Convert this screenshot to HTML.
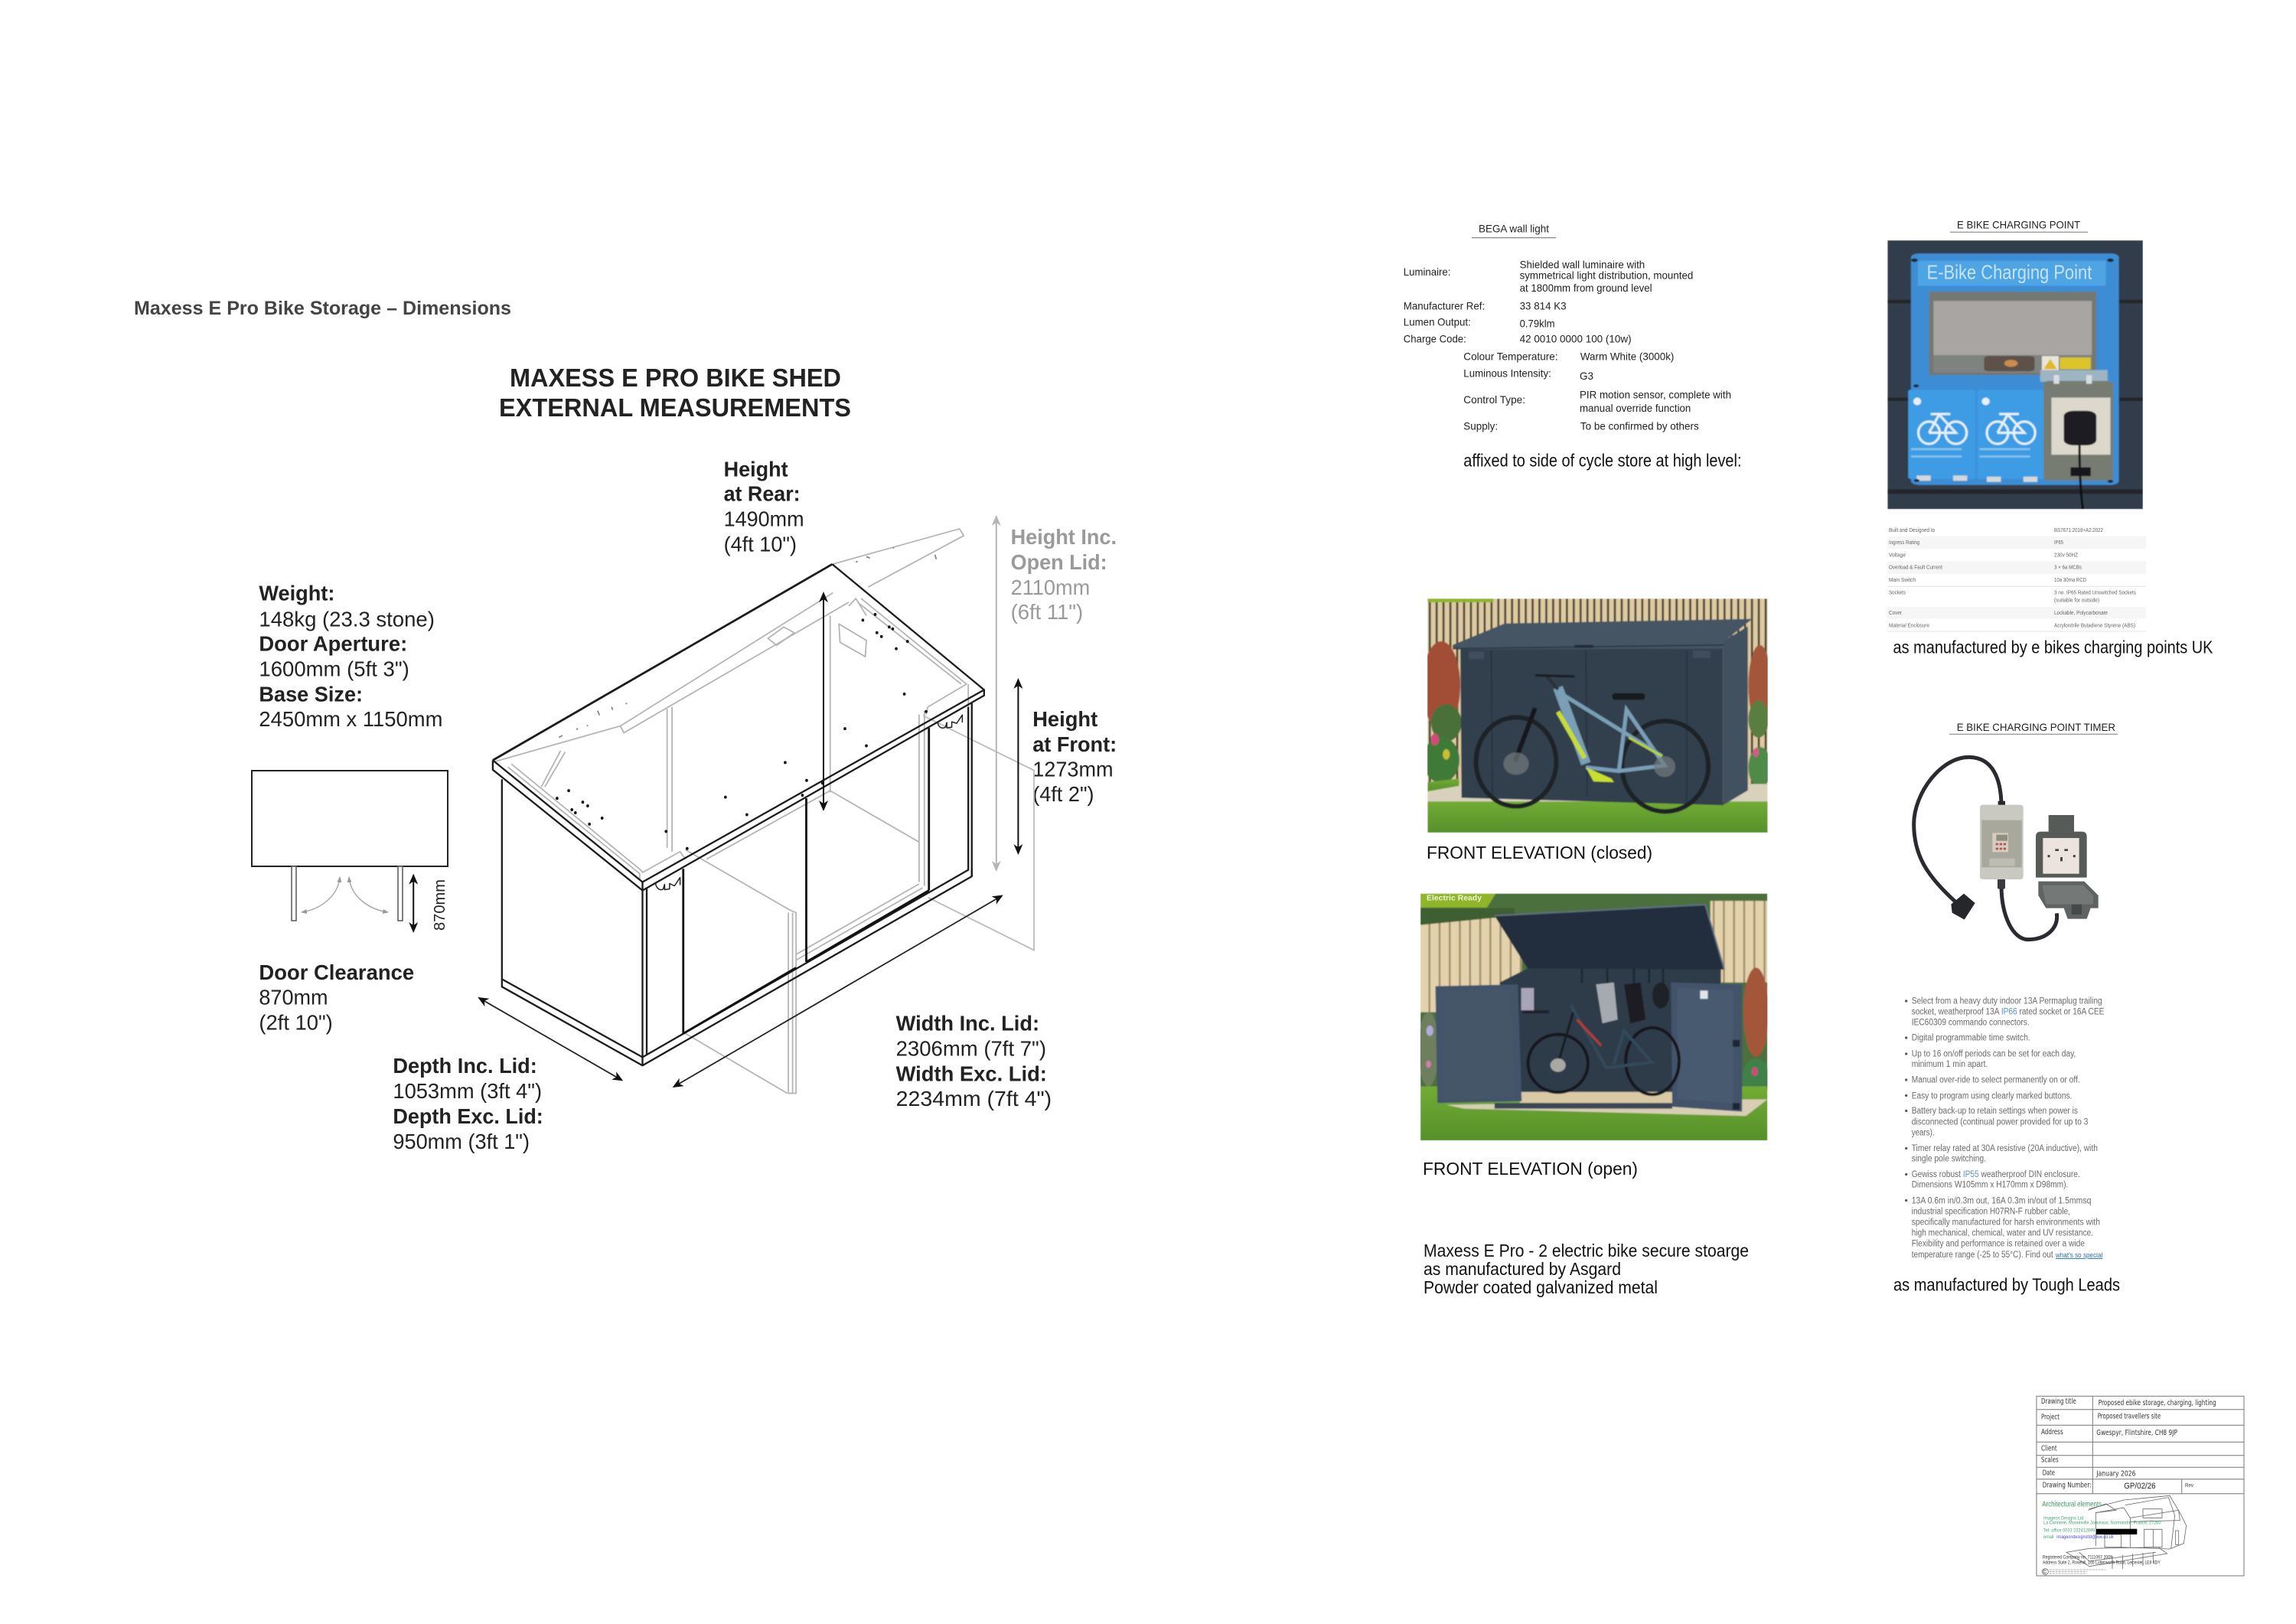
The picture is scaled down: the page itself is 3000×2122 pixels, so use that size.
<!DOCTYPE html>
<html><head><meta charset="utf-8"><title>Maxess E Pro Bike Storage</title>
<style>
html,body{margin:0;padding:0;background:#fff}
svg{display:block;position:absolute;left:0;top:0}
text{font-family:"Liberation Sans",Arial,sans-serif;fill:#111}
.g *{vector-effect:non-scaling-stroke}
.b{font-weight:bold}
.l{font-size:28px;fill:#222}
.gr{fill:#9a9a9a}
.s{font-size:14px;fill:#222}
.c{font-size:23px;fill:#111}
.t{font-size:7px;fill:#666}
.u{font-size:11.5px;fill:#6a6a6a}
.d{font-family:"DejaVu Sans",sans-serif;font-size:9.5px;fill:#333}
</style></head><body>
<svg width="3000" height="2122" viewBox="0 0 3000 2122" xmlns="http://www.w3.org/2000/svg">
<defs>
<marker id="ak" viewBox="0 0 14 12" refX="12" refY="6" markerWidth="14" markerHeight="12" markerUnits="userSpaceOnUse" orient="auto-start-reverse"><path d="M0 0L14 6L0 12L4 6Z" fill="#111"/></marker>
<marker id="ag" viewBox="0 0 14 12" refX="12" refY="6" markerWidth="14" markerHeight="12" markerUnits="userSpaceOnUse" orient="auto-start-reverse"><path d="M0 0L14 6L0 12L4 6Z" fill="#b5b5b5"/></marker>
<marker id="as" viewBox="0 0 10 8" refX="9" refY="4" markerWidth="8" markerHeight="6" markerUnits="userSpaceOnUse" orient="auto-start-reverse"><path d="M0 0L10 4L0 8Z" fill="#999"/></marker>
<pattern id="f1" patternUnits="userSpaceOnUse" width="27" height="100"><rect width="27" height="100" fill="#dfcba2"/><rect x="0" width="8" height="100" fill="#3f3a2e"/></pattern>
<pattern id="f2" patternUnits="userSpaceOnUse" width="40" height="100"><rect width="40" height="100" fill="#e4d2ac"/><rect x="0" width="7" height="100" fill="#9a8868"/></pattern>
<linearGradient id="gs" x1="0" y1="0" x2="0" y2="1"><stop offset="0" stop-color="#72ac34"/><stop offset="1" stop-color="#55902a"/></linearGradient>
<filter id="sf" x="-2%" y="-2%" width="104%" height="104%"><feGaussianBlur stdDeviation="2.4 1.6"/></filter>
<filter id="sp" x="-2%" y="-2%" width="104%" height="104%"><feGaussianBlur stdDeviation="1.2 2.2"/></filter>
<clipPath id="c1"><rect x="76" y="25" width="1340" height="631"/></clipPath>
<clipPath id="c2"><rect x="48" y="820" width="1367" height="666"/></clipPath>
<clipPath id="c3"><rect x="908" y="115" width="455" height="918"/></clipPath>
</defs>

<!-- LEFT DIAGRAM TEXT -->
<text x="175" y="411" class="b" font-size="25" style="fill:#444" textLength="493" lengthAdjust="spacingAndGlyphs">Maxess E Pro Bike Storage – Dimensions</text>
<text x="666" y="505" class="b" font-size="33" style="fill:#222" textLength="433" lengthAdjust="spacingAndGlyphs">MAXESS E PRO BIKE SHED</text>
<text x="652" y="544" class="b" font-size="33" style="fill:#222" textLength="460" lengthAdjust="spacingAndGlyphs">EXTERNAL MEASUREMENTS</text>

<text x="945.6" y="622.4" class="l b" textLength="84" lengthAdjust="spacingAndGlyphs">Height</text>
<text x="945.6" y="654.6" class="l b" textLength="100" lengthAdjust="spacingAndGlyphs">at Rear:</text>
<text x="945.6" y="687.5" class="l" textLength="105" lengthAdjust="spacingAndGlyphs">1490mm</text>
<text x="945.6" y="720.4" class="l" textLength="95.5" lengthAdjust="spacingAndGlyphs">(4ft 10")</text>

<text x="1320.6" y="711.2" class="l b gr" textLength="138.4" lengthAdjust="spacingAndGlyphs" style="fill:#9a9a9a">Height Inc.</text>
<text x="1320.6" y="744" class="l b gr" textLength="126" lengthAdjust="spacingAndGlyphs" style="fill:#9a9a9a">Open Lid:</text>
<text x="1320.6" y="777" class="l gr" textLength="103.6" lengthAdjust="spacingAndGlyphs" style="fill:#9a9a9a">2110mm</text>
<text x="1320.6" y="809" class="l gr" textLength="94.6" lengthAdjust="spacingAndGlyphs" style="fill:#9a9a9a">(6ft 11")</text>

<text x="338.4" y="784.7" class="l b" textLength="99" lengthAdjust="spacingAndGlyphs">Weight:</text>
<text x="338.4" y="818.4" class="l" textLength="229.5" lengthAdjust="spacingAndGlyphs">148kg (23.3 stone)</text>
<text x="338.4" y="850.5" class="l b" textLength="193.8" lengthAdjust="spacingAndGlyphs">Door Aperture:</text>
<text x="338.4" y="883.4" class="l" textLength="196.4" lengthAdjust="spacingAndGlyphs">1600mm (5ft 3")</text>
<text x="338.4" y="916.3" class="l b" textLength="135.7" lengthAdjust="spacingAndGlyphs">Base Size:</text>
<text x="338.4" y="949.2" class="l" textLength="240" lengthAdjust="spacingAndGlyphs">2450mm x 1150mm</text>

<text x="1349.2" y="949.2" class="l b" textLength="85" lengthAdjust="spacingAndGlyphs">Height</text>
<text x="1349.2" y="982" class="l b" textLength="110" lengthAdjust="spacingAndGlyphs">at Front:</text>
<text x="1349.2" y="1014.3" class="l" textLength="105.4" lengthAdjust="spacingAndGlyphs">1273mm</text>
<text x="1349.2" y="1047.2" class="l" textLength="80.4" lengthAdjust="spacingAndGlyphs">(4ft 2")</text>

<text x="338.4" y="1279.8" class="l b" textLength="202.7" lengthAdjust="spacingAndGlyphs">Door Clearance</text>
<text x="338.4" y="1312.7" class="l" textLength="90.2" lengthAdjust="spacingAndGlyphs">870mm</text>
<text x="338.4" y="1345.6" class="l" textLength="96.4" lengthAdjust="spacingAndGlyphs">(2ft 10")</text>

<text x="513.4" y="1402.2" class="l b" textLength="188.4" lengthAdjust="spacingAndGlyphs">Depth Inc. Lid:</text>
<text x="513.4" y="1435.2" class="l" textLength="194.7" lengthAdjust="spacingAndGlyphs">1053mm (3ft 4")</text>
<text x="513.4" y="1468" class="l b" textLength="196.4" lengthAdjust="spacingAndGlyphs">Depth Exc. Lid:</text>
<text x="513.4" y="1501" class="l" textLength="178.6" lengthAdjust="spacingAndGlyphs">950mm (3ft 1")</text>

<text x="1170.6" y="1346.4" class="l b" textLength="187.5" lengthAdjust="spacingAndGlyphs">Width Inc. Lid:</text>
<text x="1170.6" y="1379.3" class="l" textLength="196.4" lengthAdjust="spacingAndGlyphs">2306mm (7ft 7")</text>
<text x="1170.6" y="1412.3" class="l b" textLength="197.3" lengthAdjust="spacingAndGlyphs">Width Exc. Lid:</text>
<text x="1170.6" y="1445.1" class="l" textLength="203.6" lengthAdjust="spacingAndGlyphs">2234mm  (7ft 4")</text>

<text transform="translate(581 1216) rotate(-90)" font-size="20" style="fill:#222" textLength="67" lengthAdjust="spacingAndGlyphs">870mm</text>

<!-- door plan -->
<rect x="329" y="1007" width="256" height="125" fill="#fff" stroke="#222" stroke-width="2"/>
<rect x="381" y="1132" width="6" height="71" fill="#fff" stroke="#555" stroke-width="1.5"/>
<rect x="520" y="1132" width="6" height="71" fill="#fff" stroke="#555" stroke-width="1.5"/>
<path d="M444 1146C442 1170 420 1188 394 1192" fill="none" stroke="#aaa" stroke-width="1.5" marker-start="url(#as)" marker-end="url(#as)"/>
<path d="M456 1146C458 1170 480 1188 507 1192" fill="none" stroke="#aaa" stroke-width="1.5" marker-start="url(#as)" marker-end="url(#as)"/>
<line x1="540.2" y1="1143.6" x2="540.2" y2="1217" stroke="#111" stroke-width="2" marker-start="url(#ak)" marker-end="url(#ak)"/>

<!-- SHED -->
<polyline points="1206,935 1351,1006.6 1351,1241.6 1212.6,1172.7" fill="none" stroke="#bbb" stroke-width="1.8"/>
<g class="g" transform="translate(620 680) scale(.4592 .4974)" fill="none" stroke-linejoin="round">
 <g stroke="#b5b5b5" stroke-width="1.8">
  <polyline points="1018,115 1380,22 1392,40 1120,175"/>
  <polyline points="52,635 415,540 425,558 1065,215"/>
  <line x1="415" y1="540" x2="1020" y2="190"/>
  <polyline points="105,640 475,920 478,925 585,870 600,890"/>
  <polyline points="95,648 470,928 470,945"/>
  <polyline points="1100,205 1400,430 1290,490 1285,510"/>
  <polyline points="1090,215 1385,430"/>
  <line x1="548" y1="495" x2="548" y2="860"/><line x1="562" y1="490" x2="562" y2="870"/>
  <line x1="1012" y1="250" x2="1012" y2="715"/>
  <polyline points="660,890 1012,710 1265,845"/>
  <polyline points="600,865 900,1025 915,1030 915,1505 893,1505 893,1030"/>
  <line x1="905" y1="1030" x2="905" y2="1505"/>
  <line x1="595" y1="1345" x2="890" y2="1505"/>
  <polyline points="1265,510 1265,950"/><polyline points="1280,500 1280,960"/>
  <polyline points="915,1140 1265,955"/><polyline points="915,1155 1275,965"/>
  <polygon points="1037,272 1115,315 1112,358 1040,320"/>
  <polygon points="835,310 880,280 910,295 860,328"/>
  <polyline points="190,700 245,605"/><polyline points="200,700 258,608"/>
  <polyline points="1065,225 1085,205 1115,250"/>
  <line x1="1405" y1="430" x2="1405" y2="490"/>
  <path d="M240 570l10-5M290 550l4-4M320 540l3-2M350 500l6 12M390 490l3 8M430 480l4 2M1085 110l5-3M1115 95l10 4M1190 72l4 0M1310 90l4 12" stroke="#888"/>
 </g>
 <g stroke="#1c1c1c" stroke-width="2.3">
  <line x1="52" y1="630" x2="1018" y2="115" stroke-width="2.8"/>
  <line x1="1018" y1="115" x2="1450" y2="445"/>
  <polyline points="52,630 478,950 1450,445 1450,460 478,972 52,655 52,630"/>
  <line x1="478" y1="950" x2="478" y2="972"/>
  <polyline points="78,680 78,1225 478,1432 1415,935 1415,480"/>
  <polyline points="78,1205 478,1410 1405,918 1405,490"/>
  <line x1="478" y1="972" x2="478" y2="1432"/>
  <line x1="490" y1="965" x2="490" y2="1405"/>
  <line x1="1415" y1="915" x2="1415" y2="935"/>
 </g>
 <g stroke="#111" stroke-width="2.8">
  <line x1="594" y1="915" x2="594" y2="1348"/>
  <line x1="944" y1="730" x2="944" y2="1160"/>
  <line x1="1293" y1="545" x2="1293" y2="972"/>
  <line x1="594" y1="1348" x2="915" y2="1175"/>
  <line x1="944" y1="1160" x2="1293" y2="972"/>
 </g>
 <g stroke="#222" stroke-width="1.5">
  <path d="M515 950c0 18 16 24 22 18l4-12v14l14-2v-14l14 6 16-22v20"/>
  <path d="M1318 528c0 18 16 20 22 15l4-12v14l14-2v-14l14 4 16-22v20"/>
 </g>
 <g fill="#111">
  <circle cx="235" cy="730" r="4"/><circle cx="268" cy="710" r="4"/><circle cx="277" cy="760" r="4"/><circle cx="287" cy="768" r="4"/><circle cx="308" cy="740" r="4"/><circle cx="322" cy="750" r="4"/><circle cx="327" cy="798" r="4"/><circle cx="363" cy="782" r="4"/><circle cx="545" cy="817" r="4"/><circle cx="714" cy="727" r="4"/><circle cx="775" cy="773" r="4"/><circle cx="884" cy="636" r="4"/><circle cx="945" cy="683" r="4"/><circle cx="933" cy="722" r="4"/><circle cx="990" cy="690" r="4"/><circle cx="1054" cy="547" r="4"/><circle cx="1115" cy="592" r="4"/><circle cx="1223" cy="456" r="4"/><circle cx="1200" cy="337" r="4"/><circle cx="1145" cy="295" r="4"/><circle cx="1158" cy="305" r="4"/><circle cx="1105" cy="262" r="4"/><circle cx="1140" cy="247" r="4"/><circle cx="1180" cy="280" r="4"/><circle cx="1190" cy="285" r="4"/><circle cx="1232" cy="318" r="4"/><circle cx="605" cy="862" r="4"/><circle cx="1285" cy="502" r="4"/>
 </g>
</g>
<line x1="1301.8" y1="675" x2="1301.8" y2="1137" stroke="#b5b5b5" stroke-width="2" marker-start="url(#ag)" marker-end="url(#ag)"/>
<line x1="1330.4" y1="888" x2="1330.4" y2="1115" stroke="#111" stroke-width="2" marker-start="url(#ak)" marker-end="url(#ak)"/>
<line x1="1076" y1="775" x2="1076" y2="1058" stroke="#111" stroke-width="2" marker-start="url(#ak)" marker-end="url(#ak)"/>
<line x1="626" y1="1304" x2="812.5" y2="1411.4" stroke="#222" stroke-width="1.8" marker-start="url(#ak)" marker-end="url(#ak)"/>
<line x1="880.4" y1="1420" x2="1309" y2="1170.5" stroke="#222" stroke-width="1.8" marker-start="url(#ak)" marker-end="url(#ak)"/>

<!-- BEGA TEXT -->
<text x="1932" y="303.7" class="s" textLength="92" lengthAdjust="spacingAndGlyphs">BEGA wall light</text>
<line x1="1923" y1="310.6" x2="2033" y2="310.6" stroke="#888" stroke-width="1.2"/>
<text x="1833.8" y="360" class="s" textLength="61.6" lengthAdjust="spacingAndGlyphs">Luminaire:</text>
<text x="1985.6" y="350.4" class="s" textLength="163.6" lengthAdjust="spacingAndGlyphs">Shielded wall luminaire with</text>
<text x="1985.6" y="364.5" class="s" textLength="226.7" lengthAdjust="spacingAndGlyphs">symmetrical light distribution, mounted</text>
<text x="1985.6" y="381" class="s" textLength="173" lengthAdjust="spacingAndGlyphs">at 1800mm from ground level</text>
<text x="1833.8" y="404.7" class="s" textLength="106.4" lengthAdjust="spacingAndGlyphs">Manufacturer Ref:</text>
<text x="1985.6" y="404.7" class="s" textLength="61" lengthAdjust="spacingAndGlyphs">33 814 K3</text>
<text x="1833.8" y="425.4" class="s" textLength="88" lengthAdjust="spacingAndGlyphs">Lumen Output:</text>
<text x="1985.6" y="427.7" class="s" textLength="46" lengthAdjust="spacingAndGlyphs">0.79klm</text>
<text x="1833.8" y="447.6" class="s" textLength="82" lengthAdjust="spacingAndGlyphs">Charge Code:</text>
<text x="1985.6" y="447.6" class="s" textLength="146" lengthAdjust="spacingAndGlyphs">42 0010 0000 100 (10w)</text>
<text x="1912.3" y="470.5" class="s" textLength="123.3" lengthAdjust="spacingAndGlyphs">Colour Temperature:</text>
<text x="2064.9" y="470.5" class="s" textLength="122.5" lengthAdjust="spacingAndGlyphs">Warm White (3000k)</text>
<text x="1912.3" y="492.7" class="s" textLength="114.5" lengthAdjust="spacingAndGlyphs">Luminous Intensity:</text>
<text x="2064" y="495.8" class="s" textLength="18" lengthAdjust="spacingAndGlyphs">G3</text>
<text x="1912.3" y="527.2" class="s" textLength="80.7" lengthAdjust="spacingAndGlyphs">Control Type:</text>
<text x="2064" y="520.7" class="s" textLength="198" lengthAdjust="spacingAndGlyphs">PIR motion sensor, complete with</text>
<text x="2064" y="537.9" class="s" textLength="145.3" lengthAdjust="spacingAndGlyphs">manual override function</text>
<text x="1912.3" y="561.6" class="s" textLength="44.8" lengthAdjust="spacingAndGlyphs">Supply:</text>
<text x="2064.9" y="561.6" class="s" textLength="154.8" lengthAdjust="spacingAndGlyphs">To be confirmed by others</text>
<text x="1912.3" y="609.5" class="c" textLength="363.2" lengthAdjust="spacingAndGlyphs">affixed to side of cycle store at high level:</text>

<!-- E BIKE CHARGING POINT -->
<text x="2557" y="298.7" class="s" textLength="161" lengthAdjust="spacingAndGlyphs">E BIKE CHARGING POINT</text>
<line x1="2548" y1="303.3" x2="2728" y2="303.3" stroke="#888" stroke-width="1.2"/>
<g class="g" transform="translate(1800 270) scale(.7337 .3827)">
 <g clip-path="url(#c3)"><g filter="url(#sp)">
  <rect x="908" y="115" width="455" height="918" fill="#303d4b"/>
  <g fill="#23272b"><rect x="908" y="318" width="455" height="12"/><rect x="908" y="652" width="455" height="12"/><rect x="908" y="965" width="455" height="16"/></g>
  <rect x="950" y="160" width="370" height="790" rx="14" fill="#3d8dd4"/>
  <rect x="962" y="185" width="335" height="85" fill="#4fa4e4"/>
  <rect x="982" y="290" width="298" height="285" fill="#737875"/>
  <rect x="990" y="322" width="282" height="185" fill="#a9a5a2"/>
  <rect x="990" y="507" width="282" height="60" fill="#7f8380"/>
  <rect x="1080" y="510" width="90" height="52" rx="8" fill="#5d5148"/>
  <circle cx="1128" cy="535" r="12" fill="#c98d50"/>
  <rect x="1183" y="510" width="30" height="50" fill="#e8e5da"/><rect x="1215" y="515" width="55" height="40" fill="#dcc52a"/>
  <polygon points="1198,520 1210,555 1186,555" fill="#e2b826"/>
  <rect x="1180" y="558" width="120" height="40" fill="#9db4c2"/>
  <rect x="945" y="625" width="120" height="305" rx="6" fill="#3e9ce4"/>
  <rect x="1068" y="625" width="120" height="305" rx="6" fill="#3e9ce4"/>
  <g fill="none" stroke="#e6f2fa" stroke-width="3">
   <ellipse cx="982" cy="772" rx="19" ry="38"/><ellipse cx="1030" cy="772" rx="19" ry="38"/><polyline points="982,772 1000,710 1030,772 990,772 982,772"/><line x1="985" y1="708" x2="1020" y2="708"/>
   <ellipse cx="1104" cy="772" rx="19" ry="38"/><ellipse cx="1152" cy="772" rx="19" ry="38"/><polyline points="1104,772 1122,710 1152,772 1112,772 1104,772"/><line x1="1107" y1="708" x2="1142" y2="708"/>
  </g>
  <ellipse cx="961" cy="665" rx="7" ry="13" fill="#e6f2fa"/><ellipse cx="1083" cy="665" rx="7" ry="13" fill="#e6f2fa"/>
  <g fill="#8dc6ee"><rect x="950" y="825" width="90" height="6"/><rect x="950" y="850" width="90" height="6"/><rect x="1072" y="825" width="90" height="6"/><rect x="1072" y="850" width="90" height="6"/></g>
  <g fill="#d4d8d8"><rect x="960" y="918" width="25" height="18"/><rect x="1025" y="918" width="25" height="18"/><rect x="1085" y="922" width="25" height="18"/><rect x="1150" y="922" width="25" height="18"/></g>
  <rect x="1186" y="595" width="124" height="340" rx="10" fill="#777c72"/>
  <rect x="1200" y="652" width="105" height="195" fill="#dcd8cc"/>
  <rect x="1222" y="697" width="58" height="118" rx="18" fill="#1d1f22"/>
  <rect x="1204" y="575" width="10" height="30" fill="#d8dde0"/><rect x="1262" y="575" width="10" height="30" fill="#d8dde0"/>
  <path d="M1250 815C1250 860 1250 950 1256 1033" stroke="#111" stroke-width="3" fill="none"/>
  <rect x="1234" y="890" width="36" height="30" fill="#15171a"/>
  <g fill="#1c2630"><circle cx="956" cy="183" r="6"/><circle cx="1305" cy="183" r="6"/><circle cx="960" cy="935" r="5"/><circle cx="1305" cy="938" r="5"/><circle cx="959" cy="612" r="5"/></g>
 </g></g>
</g>
<text x="2517.6" y="364.5" font-size="26" style="fill:#c4e3f6" textLength="215.7" lengthAdjust="spacingAndGlyphs">E-Bike Charging Point</text>

<!-- SPEC TABLE -->
<g fill="#f6f6f6"><rect x="2466" y="700.7" width="338" height="16.6"/><rect x="2466" y="733.3" width="338" height="16.7"/><rect x="2466" y="793.3" width="338" height="15"/></g>
<g stroke="#e4e4e4" stroke-width="1"><line x1="2466" y1="766.3" x2="2804" y2="766.3"/><line x1="2466" y1="825" x2="2804" y2="825"/></g>
<text x="2468" y="695" class="t" textLength="60" lengthAdjust="spacingAndGlyphs">Built and Designed to</text>
<text x="2684" y="695" class="t" textLength="64" lengthAdjust="spacingAndGlyphs">BS7671:2018+A2:2022</text>
<text x="2468" y="711" class="t" textLength="40" lengthAdjust="spacingAndGlyphs">Ingress Rating</text>
<text x="2684" y="711" class="t" textLength="12" lengthAdjust="spacingAndGlyphs">IP65</text>
<text x="2468" y="727.3" class="t" textLength="22" lengthAdjust="spacingAndGlyphs">Voltage</text>
<text x="2684" y="727.3" class="t" textLength="31" lengthAdjust="spacingAndGlyphs">230v 50HZ</text>
<text x="2468" y="743.7" class="t" textLength="70" lengthAdjust="spacingAndGlyphs">Overload &amp; Fault Current</text>
<text x="2684" y="743.7" class="t" textLength="36" lengthAdjust="spacingAndGlyphs">3 × 6a MCBs</text>
<text x="2468" y="760" class="t" textLength="35" lengthAdjust="spacingAndGlyphs">Main Switch</text>
<text x="2684" y="760" class="t" textLength="42" lengthAdjust="spacingAndGlyphs">10a 30ma RCD</text>
<text x="2468" y="776.3" class="t" textLength="22" lengthAdjust="spacingAndGlyphs">Sockets</text>
<text x="2684" y="776.3" class="t" textLength="107" lengthAdjust="spacingAndGlyphs">3 no. IP65 Rated Unswitched Sockets</text>
<text x="2684" y="786.7" class="t" textLength="59" lengthAdjust="spacingAndGlyphs">(suitable for outside)</text>
<text x="2468" y="803" class="t" textLength="17" lengthAdjust="spacingAndGlyphs">Cover</text>
<text x="2684" y="803" class="t" textLength="70" lengthAdjust="spacingAndGlyphs">Lockable, Polycarbonate</text>
<text x="2468" y="819.3" class="t" textLength="53" lengthAdjust="spacingAndGlyphs">Material Enclosure</text>
<text x="2684" y="819.3" class="t" textLength="106" lengthAdjust="spacingAndGlyphs">Acrylonitrile Butadiene Styrene (ABS)</text>
<text x="2473.5" y="853.6" class="c" textLength="418" lengthAdjust="spacingAndGlyphs">as manufactured by e bikes charging points UK</text>

<!-- PHOTOS -->
<g class="g" transform="translate(1840 770) scale(.3317 .4847)">
 <g clip-path="url(#c1)"><g filter="url(#sf)">
  <rect x="76" y="25" width="1340" height="560" fill="url(#f1)"/>
  <rect x="76" y="25" width="260" height="10" fill="#8fb52a"/>
  <ellipse cx="130" cy="260" rx="75" ry="120" fill="#a24e35"/><ellipse cx="150" cy="360" rx="60" ry="50" fill="#4a7038"/>
  <ellipse cx="130" cy="460" rx="72" ry="62" fill="#3f7a38"/>
  <circle cx="105" cy="405" r="16" fill="#d34a78"/><circle cx="150" cy="445" r="14" fill="#c9c030"/>
  <ellipse cx="1385" cy="260" rx="45" ry="110" fill="#a4563a"/><ellipse cx="1380" cy="350" rx="40" ry="50" fill="#5a7d42"/><ellipse cx="1385" cy="480" rx="45" ry="55" fill="#4f8a48"/>
  <circle cx="1370" cy="440" r="12" fill="#d35a88"/>
  <rect x="76" y="525" width="1340" height="75" fill="#d9d1bc"/>
  <rect x="76" y="572" width="1340" height="84" fill="url(#gs)"/>
  <polygon points="76,545 76,520 200,510 200,530" fill="url(#gs)"/>
  <polygon points="205,160 1240,160 1240,582 210,562" fill="#33414e"/>
  <polygon points="1240,140 1338,100 1338,542 1240,582" fill="#425160"/>
  <polygon points="175,150 380,92 1355,80 1245,140 1245,160 175,162" fill="#445464"/>
  <line x1="175" y1="160" x2="1245" y2="150" stroke="#27323c" stroke-width="1.5"/>
  <g stroke="#232c36" stroke-width="1.2"><line x1="327" y1="165" x2="332" y2="560"/><line x1="700" y1="165" x2="705" y2="560"/><line x1="1097" y1="165" x2="1097" y2="575"/></g>
  <rect x="240" y="168" width="58" height="20" fill="#3f4d5c"/><rect x="1122" y="165" width="68" height="20" fill="#3f4d5c"/>
  <rect x="655" y="150" width="75" height="8" fill="#232c36"/>
  <g fill="none">
   <ellipse cx="425" cy="465" rx="158" ry="120" stroke="#1c2226" stroke-width="6"/>
   <ellipse cx="1012" cy="477" rx="170" ry="122" stroke="#1c2226" stroke-width="6"/>
   <polyline points="500,320 420,465" stroke="#14181c" stroke-width="6"/>
   <polyline points="590,265 700,470" stroke="#7a9fb6" stroke-width="13"/>
   <polyline points="700,480 830,490 1010,475 860,325 830,490" stroke="#7a9fb6" stroke-width="5"/>
   <polyline points="600,280 860,390 1000,450" stroke="#7a9fb6" stroke-width="5"/>
   <polyline points="590,270 540,230" stroke="#2a3238" stroke-width="4"/>
   <polyline points="500,232 655,235" stroke="#171b1f" stroke-width="3"/>
   <polyline points="590,330 695,455" stroke="#c7dd34" stroke-width="6"/>
   <polyline points="870,400 1000,450" stroke="#b8d42f" stroke-width="3"/>
  </g>
  <polygon points="700,480 800,510 810,520 730,518" fill="#c9e02f"/>
  <rect x="803" y="280" width="130" height="18" rx="9" fill="#171b1f"/>
  <ellipse cx="425" cy="470" rx="50" ry="30" fill="#737b7f" opacity=".7"/><ellipse cx="1010" cy="478" rx="42" ry="28" fill="#737b7f" opacity=".7"/>
 </g></g>
 <g clip-path="url(#c2)"><g filter="url(#sf)">
  <rect x="48" y="820" width="1367" height="666" fill="#4c6f3c"/>
  <rect x="48" y="880" width="400" height="260" fill="url(#f2)"/>
  <rect x="1190" y="840" width="225" height="220" fill="url(#f2)"/>
  <polygon points="48,860 420,860 420,880 48,905" fill="#3e5e32"/>
  <ellipse cx="1370" cy="1140" rx="50" ry="120" fill="#a4563a"/><ellipse cx="1370" cy="1320" rx="55" ry="55" fill="#3f8048"/>
  <ellipse cx="80" cy="1240" rx="40" ry="100" fill="#6d7f5d"/><circle cx="85" cy="1190" r="14" fill="#b0aed8"/><circle cx="80" cy="1280" r="10" fill="#cf7fa8"/>
  <circle cx="1365" cy="1300" r="12" fill="#cf4a78"/>
  <rect x="48" y="1340" width="1367" height="146" fill="url(#gs)"/>
  <polygon points="150,1390 1340,1375 1415,1375 1330,1420 220,1400" fill="#d8ceb3"/>
  <polygon points="48,820 345,820 310,858 48,858" fill="#8fb52a"/>
  <polygon points="360,1060 470,1022 1232,1022 1232,1060 1045,1365 445,1365" fill="#2f3b49"/>
  <polygon points="340,880 1170,850 1245,1025 470,1022" fill="#222e3c"/>
  <polyline points="340,880 1170,850 1245,1025" fill="none" stroke="#5e6f80" stroke-width="2"/>
  <polygon points="445,1355 1040,1355 1040,1385 440,1385" fill="#d9c9a5"/>
  <polygon points="440,1385 1040,1385 1040,1400 340,1400 340,1385" fill="#3a4756"/>
  <polygon points="107,1070 432,1065 447,1380 115,1385" fill="#42536a"/>
  <polygon points="130,1082 405,1078 415,1370 140,1375" fill="#455669"/>
  <polygon points="1035,1060 1315,1065 1315,1408 1040,1395" fill="#42536a"/>
  <polygon points="1060,1075 1280,1080 1280,1385 1060,1375" fill="#475a70"/>
  <rect x="1150" y="1082" width="30" height="22" fill="#e2e6ea"/>
  <rect x="1278" y="1215" width="28" height="18" fill="#1f2731"/><rect x="1278" y="1385" width="28" height="18" fill="#1f2731"/>
  <rect x="450" y="1135" width="105" height="8" fill="#1b222b"/>
  <rect x="445" y="1075" width="50" height="60" fill="#a9a5b8"/>
  <path d="M740 1065l70-5 15 100-60 10z" fill="#a4aab0"/><path d="M850 1065l65-5 20 100-60 10z" fill="#1b1e24"/>
  <ellipse cx="995" cy="1095" rx="33" ry="35" fill="#1d2025"/>
  <g fill="none">
   <ellipse cx="590" cy="1278" rx="118" ry="78" stroke="#15181c" stroke-width="4"/>
   <ellipse cx="962" cy="1272" rx="105" ry="90" stroke="#15181c" stroke-width="4"/>
   <polyline points="650,1140 590,1278" stroke="#141a20" stroke-width="3"/>
   <polyline points="640,1120 780,1290 960,1275 850,1190 810,1280" stroke="#33485a" stroke-width="4"/>
   <polyline points="665,1160 760,1230" stroke="#b83a30" stroke-width="3"/>
  </g>
  <ellipse cx="590" cy="1283" rx="30" ry="18" fill="#a9a9a4"/>
  <g fill="#1e2833"><rect x="680" y="1022" width="8" height="40"/><rect x="780" y="1022" width="8" height="40"/><rect x="885" y="1022" width="8" height="40"/><rect x="945" y="1022" width="8" height="40"/><rect x="1000" y="1022" width="8" height="40"/></g>
 </g></g>
</g>
<text x="1864" y="1176.5" class="b" font-size="10.5" style="fill:#eef4d8" textLength="72" lengthAdjust="spacingAndGlyphs">Electric Ready</text>
<text x="1864" y="1122" class="c" textLength="295" lengthAdjust="spacingAndGlyphs">FRONT ELEVATION (closed)</text>
<text x="1859" y="1535" class="c" textLength="281" lengthAdjust="spacingAndGlyphs">FRONT ELEVATION (open)</text>
<text x="1860" y="1642" class="c" textLength="425" lengthAdjust="spacingAndGlyphs">Maxess E Pro - 2 electric bike secure stoarge</text>
<text x="1860" y="1666" class="c" textLength="258" lengthAdjust="spacingAndGlyphs">as manufactured by Asgard</text>
<text x="1860" y="1690" class="c" textLength="306" lengthAdjust="spacingAndGlyphs">Powder coated galvanized metal</text>

<!-- TIMER -->
<text x="2556.7" y="955" class="s" textLength="207.3" lengthAdjust="spacingAndGlyphs">E BIKE CHARGING POINT TIMER</text>
<line x1="2547" y1="959.3" x2="2767" y2="959.3" stroke="#888" stroke-width="1.2"/>
<g class="g" transform="translate(2460 930) scale(.33333)">
 <path d="M465 360C462 260 430 180 340 178C230 175 122 320 122 440C122 560 170 640 285 745" fill="none" stroke="#2a2b30" stroke-width="5"/>
 <path d="M465 680C465 800 510 893 570 893C640 893 690 850 682 790" fill="none" stroke="#2a2b30" stroke-width="5"/>
 <polygon points="268,755 318,713 362,750 320,815 272,788" fill="#26272b"/>
 <rect x="452" y="350" width="28" height="20" fill="#26272b"/>
 <rect x="450" y="655" width="30" height="40" rx="6" fill="#3a3b3f"/>
 <rect x="381" y="365" width="170" height="292" rx="10" fill="#c9c9c1"/>
 <rect x="388" y="425" width="157" height="185" fill="#a9a89d"/>
 <rect x="430" y="475" width="62" height="75" fill="#d5cdbd"/>
 <rect x="445" y="482" width="44" height="24" fill="#8f8f80"/>
 <g fill="#b5554f"><rect x="443" y="515" width="10" height="8"/><rect x="458" y="515" width="10" height="8"/><rect x="473" y="515" width="10" height="8"/><rect x="443" y="533" width="10" height="8"/><rect x="458" y="533" width="10" height="8"/><rect x="473" y="533" width="10" height="8"/></g>
 <rect x="418" y="575" width="100" height="30" fill="#bdbcb2"/>
 <path d="M650 405H750V470H780Q800 470 800 490V650H600V490Q600 470 620 470H650Z" fill="#565b58"/>
 <rect x="628" y="495" width="142" height="140" fill="#ece4dc"/>
 <g fill="#444"><rect x="676" y="538" width="14" height="8"/><rect x="712" y="538" width="14" height="8"/><rect x="696" y="570" width="9" height="16"/><circle cx="651" cy="566" r="5"/><circle cx="751" cy="566" r="5"/></g>
 <path d="M610 665H790L845 720V770H815L800 812H725L710 770H640L610 720Z" fill="#5f6462"/>
 <path d="M625 680H785L825 720V755H640Z" fill="#747977"/>
 <rect x="740" y="755" width="40" height="40" fill="#45494a"/>
</g>

<!-- BULLETS -->
<g fill="#555"><circle cx="2490.7" cy="1308" r="1.6"/><circle cx="2490.7" cy="1356" r="1.6"/><circle cx="2490.7" cy="1377" r="1.6"/><circle cx="2490.7" cy="1411" r="1.6"/><circle cx="2490.7" cy="1431.5" r="1.6"/><circle cx="2490.7" cy="1451.5" r="1.6"/><circle cx="2490.7" cy="1500.5" r="1.6"/><circle cx="2490.7" cy="1534.5" r="1.6"/><circle cx="2490.7" cy="1568.5" r="1.6"/></g>
<text x="2497.7" y="1311.7" class="u" textLength="249" lengthAdjust="spacingAndGlyphs">Select from a heavy duty indoor 13A Permaplug trailing</text>
<text x="2497.7" y="1325.7" class="u" textLength="251.7" lengthAdjust="spacingAndGlyphs">socket, weatherproof 13A <tspan style="fill:#5a93cc">IP66</tspan> rated socket or 16A CEE</text>
<text x="2497.7" y="1339.3" class="u" textLength="154" lengthAdjust="spacingAndGlyphs">IEC60309 commando connectors.</text>
<text x="2497.7" y="1359.7" class="u" textLength="155" lengthAdjust="spacingAndGlyphs">Digital programmable time switch.</text>
<text x="2497.7" y="1380.3" class="u" textLength="214.7" lengthAdjust="spacingAndGlyphs">Up to 16 on/off periods can be set for each day,</text>
<text x="2497.7" y="1394" class="u" textLength="99.7" lengthAdjust="spacingAndGlyphs">minimum 1 min apart.</text>
<text x="2497.7" y="1414.7" class="u" textLength="220" lengthAdjust="spacingAndGlyphs">Manual over-ride to select permanently on or off.</text>
<text x="2497.7" y="1435.3" class="u" textLength="209.7" lengthAdjust="spacingAndGlyphs">Easy to program using clearly marked buttons.</text>
<text x="2497.7" y="1455" class="u" textLength="217.3" lengthAdjust="spacingAndGlyphs">Battery back-up to retain settings when power is</text>
<text x="2497.7" y="1469.7" class="u" textLength="230.7" lengthAdjust="spacingAndGlyphs">disconnected (continual power provided for up to 3</text>
<text x="2497.7" y="1483.3" class="u" textLength="30" lengthAdjust="spacingAndGlyphs">years).</text>
<text x="2497.7" y="1504" class="u" textLength="243.3" lengthAdjust="spacingAndGlyphs">Timer relay rated at 30A resistive (20A inductive), with</text>
<text x="2497.7" y="1517.7" class="u" textLength="97.3" lengthAdjust="spacingAndGlyphs">single pole switching.</text>
<text x="2497.7" y="1538" class="u" textLength="220" lengthAdjust="spacingAndGlyphs">Gewiss robust <tspan style="fill:#5a93cc">IP55</tspan> weatherproof DIN enclosure.</text>
<text x="2497.7" y="1551.7" class="u" textLength="204.7" lengthAdjust="spacingAndGlyphs">Dimensions W105mm x H170mm x D98mm).</text>
<text x="2497.7" y="1572.3" class="u" textLength="234.7" lengthAdjust="spacingAndGlyphs">13A 0.6m in/0.3m out, 16A 0.3m in/out of 1.5mmsq</text>
<text x="2497.7" y="1586.3" class="u" textLength="207.3" lengthAdjust="spacingAndGlyphs">industrial specification H07RN-F rubber cable,</text>
<text x="2497.7" y="1600.7" class="u" textLength="246.3" lengthAdjust="spacingAndGlyphs">specifically manufactured for harsh environments with</text>
<text x="2497.7" y="1614.3" class="u" textLength="237.3" lengthAdjust="spacingAndGlyphs">high mechanical, chemical, water and UV resistance.</text>
<text x="2497.7" y="1628.3" class="u" textLength="226.3" lengthAdjust="spacingAndGlyphs">Flexibility and performance is retained over a wide</text>
<text x="2497.7" y="1643" class="u" textLength="185" lengthAdjust="spacingAndGlyphs">temperature range (-25 to 55°C). Find out</text>
<text x="2686" y="1643" font-size="9" style="fill:#2a6fb5;text-decoration:underline" textLength="61.3" lengthAdjust="spacingAndGlyphs">what's so special</text>
<text x="2474" y="1686.7" class="c" textLength="296" lengthAdjust="spacingAndGlyphs">as manufactured by Tough Leads</text>

<!-- TITLE BLOCK -->
<g fill="none" stroke="#777" stroke-width="1">
 <rect x="2661" y="1824.3" width="271" height="234.7"/>
 <line x1="2661" y1="1841.7" x2="2932" y2="1841.7"/><line x1="2661" y1="1862.3" x2="2932" y2="1862.3"/><line x1="2661" y1="1884.3" x2="2932" y2="1884.3"/><line x1="2661" y1="1901.7" x2="2932" y2="1901.7"/><line x1="2661" y1="1917.3" x2="2932" y2="1917.3"/><line x1="2661" y1="1932.7" x2="2932" y2="1932.7"/><line x1="2661" y1="1951.7" x2="2932" y2="1951.7"/>
 <line x1="2734.3" y1="1824.3" x2="2734.3" y2="1951.7"/><line x1="2850.7" y1="1932.7" x2="2850.7" y2="1951.7"/>
</g>
<text x="2667" y="1834" class="d" textLength="45.7" lengthAdjust="spacingAndGlyphs">Drawing title</text>
<text x="2741.7" y="1836" class="d" textLength="154" lengthAdjust="spacingAndGlyphs">Proposed ebike storage, charging, lighting</text>
<text x="2667" y="1854.3" class="d" textLength="24" lengthAdjust="spacingAndGlyphs">Project</text>
<text x="2740.7" y="1853.7" class="d" textLength="82.7" lengthAdjust="spacingAndGlyphs">Proposed travellers site</text>
<text x="2667" y="1874" class="d" textLength="28.7" lengthAdjust="spacingAndGlyphs">Address</text>
<text x="2739.3" y="1875" class="d" textLength="105.7" lengthAdjust="spacingAndGlyphs">Gwespyr, Flintshire, CH8 9JP</text>
<text x="2667" y="1895.7" class="d" textLength="20.7" lengthAdjust="spacingAndGlyphs">Client</text>
<text x="2667" y="1910.3" class="d" textLength="22.7" lengthAdjust="spacingAndGlyphs">Scales</text>
<text x="2668.7" y="1927.3" class="d" textLength="16.3" lengthAdjust="spacingAndGlyphs">Date</text>
<text x="2739.3" y="1928.7" class="d" textLength="51.3" lengthAdjust="spacingAndGlyphs">January 2026</text>
<text x="2668.7" y="1943.3" class="d" textLength="64" lengthAdjust="spacingAndGlyphs">Drawing Number:</text>
<text x="2775.3" y="1945" font-size="11" style="fill:#222" textLength="41.3" lengthAdjust="spacingAndGlyphs">GP/02/26</text>
<text x="2855" y="1943" font-size="7" style="fill:#444" textLength="11" lengthAdjust="spacingAndGlyphs">Rev</text>

<g class="g" transform="translate(2660 1820) scale(.33333)" fill="none" stroke="#666" stroke-width=".8">
 <polyline points="208,455 345,420 525,403 565,470 590,520 580,590 525,612 330,605"/>
 <polyline points="205,460 275,435 315,460 235,470 235,600"/>
 <polyline points="235,470 345,450 370,490 370,605"/>
 <polyline points="350,440 520,410 545,480 530,610"/>
 <polyline points="370,490 560,460 565,500 372,505"/>
 <rect x="420" y="455" width="75" height="35"/>
 <rect x="425" y="535" width="70" height="70"/>
 <line x1="460" y1="535" x2="460" y2="605"/>
 <rect x="270" y="555" width="65" height="50"/>
 <rect x="548" y="540" width="12" height="55"/>
 <polyline points="210,610 120,625 210,680 515,630 480,605 210,610"/>
 <polyline points="170,625 210,660 470,625"/>
 <path d="M300 640v50M340 635v55M380 630v50M420 628v50M460 625v40"/>
 <circle cx="37" cy="701" r="12"/>
 <path d="M53 693H275M53 700H200M53 708H200" stroke="#999" stroke-dasharray="3 1"/>
</g>
<text x="2668.3" y="1968.3" font-size="10" style="fill:#3a9a5a" textLength="77.7" lengthAdjust="spacingAndGlyphs">Architectural elements</text>
<text x="2670" y="1985.7" font-size="6" style="fill:#45a878" textLength="52.3" lengthAdjust="spacingAndGlyphs">Imageon Designs Ltd</text>
<text x="2670" y="1991.3" font-size="6" style="fill:#45a878" textLength="153.3" lengthAdjust="spacingAndGlyphs">La Cannerie, Morainville Jouveaux, Normandie, France, 27260</text>
<text x="2670" y="2001.7" font-size="6" style="fill:#45a878" textLength="67.3" lengthAdjust="spacingAndGlyphs">Tel: office 0033 232412899</text>
<rect x="2739" y="1997.7" width="53.3" height="7.3" fill="#000"/>
<text x="2670" y="2010" font-size="6" style="fill:#45a878" textLength="13.3" lengthAdjust="spacingAndGlyphs">email</text>
<text x="2687.3" y="2010" font-size="6" style="fill:#4a4ad0" textLength="74.3" lengthAdjust="spacingAndGlyphs">imageondesignsltd@live.co.uk</text>
<text x="2669" y="2036.7" font-size="6" style="fill:#333" textLength="91" lengthAdjust="spacingAndGlyphs">Registered Company no. 7111067 2009</text>
<text x="2669" y="2043.3" font-size="6" style="fill:#333" textLength="153.7" lengthAdjust="spacingAndGlyphs">Address Suite 2, Rosehill, 165 Lutterworth Road, Leicester, LE8 4DY</text>
<text x="2669.3" y="2056" font-size="7" style="fill:#333">C</text>
</svg>
</body></html>
